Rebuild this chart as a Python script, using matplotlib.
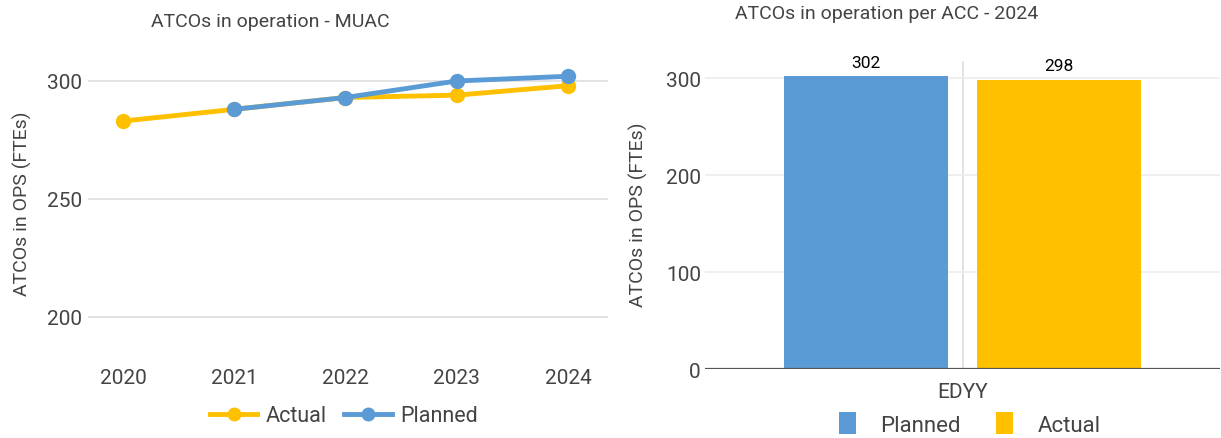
import matplotlib.pyplot as plt

# ============================================================
# data
# ============================================================

years = [2020, 2021, 2022, 2023, 2024]
actual = [283, 288, 293, 294, 298]
planned_years = [2021, 2022, 2023, 2024]
planned = [288, 293, 300, 302]

acc_names = ["EDYY"]
acc_planned = [302]
acc_actual = [298]

BLUE = "#5b9bd5"
YELLOW = "#ffc000"
TXT = "#444444"
GRID = "#dedede"

plt.rcParams["font.family"] = ["Roboto", "DejaVu Sans"]

W, H = 1221, 439
fig = plt.figure(figsize=(W / 100, H / 100), dpi=100)


def box(x0, y0, x1, y1):
    # pixel box -> figure fraction
    return [x0 / W, 1 - y1 / H, (x1 - x0) / W, (y1 - y0) / H]


# ============================================================
# left: line chart
# ============================================================

ax1 = fig.add_axes(box(88, 40, 608, 350))
xi = {y: i for i, y in enumerate(years)}
ax1.plot([xi[y] for y in years], actual, color=YELLOW, lw=3.5,
         marker="o", ms=10, label="Actual", zorder=3)
ax1.plot([xi[y] for y in planned_years], planned, color=BLUE, lw=3.5,
         marker="o", ms=10, label="Planned", zorder=4)

ax1.set_xlim(-0.315, 4.36)
ax1.set_ylim(186.4, 317.8)
ax1.set_yticks([200, 250, 300])
ax1.set_xticks(range(len(years)))
ax1.set_xticklabels([str(y) for y in years])
ax1.grid(axis="y", color=GRID, lw=1.2)
ax1.set_axisbelow(True)
for s in ax1.spines.values():
    s.set_visible(False)
ax1.tick_params(length=0, labelsize=15, colors=TXT)
ax1.tick_params(axis="x", pad=14)
ax1.tick_params(axis="y", pad=4)
fig.text(22 / W, 1 - 204 / H, "ATCOs in OPS (FTEs)", rotation=90,
         ha="center", va="center", fontsize=14, color=TXT)
fig.text(270 / W, 1 - 22 / H, "ATCOs in operation - MUAC",
         ha="center", va="center", fontsize=14, color=TXT)
ax1.legend(loc="center", bbox_to_anchor=(344 / W, 1 - 417 / H),
           bbox_transform=fig.transFigure, ncol=2, frameon=False,
           fontsize=15.5, labelcolor=TXT, handlelength=2.2,
           handletextpad=0.4, columnspacing=0.8, markerscale=0.9)

# ============================================================
# right: bar chart
# ============================================================

ax2 = fig.add_axes(box(705, 62, 1220, 370))
off = 0.187
bw = 0.318
xs = list(range(len(acc_names)))
b1 = ax2.bar([x - off for x in xs], acc_planned, width=bw, color=BLUE,
             label="Planned", zorder=3)
b2 = ax2.bar([x + off for x in xs], acc_actual, width=bw, color=YELLOW,
             label="Actual", zorder=3)
for bars in (b1, b2):
    for r in bars:
        ax2.annotate(f"{r.get_height():.0f}",
                     (r.get_x() + r.get_width() / 2, r.get_height()),
                     xytext=(0, 5), textcoords="offset points",
                     ha="center", va="bottom", fontsize=12.5, color="black")

ax2.set_xlim(-0.5, 0.5)
ax2.set_ylim(0, 318)
ax2.set_yticks([0, 100, 200, 300])
ax2.set_xticks(xs)
ax2.set_xticklabels(acc_names)
ax2.grid(axis="y", color="#ececec", lw=1.2)
ax2.grid(axis="x", color="#dddddd", lw=1.2)
ax2.set_axisbelow(True)
for s in ax2.spines.values():
    s.set_visible(False)
ax2.axhline(0, color="#555555", lw=1.6, zorder=4)
ax2.tick_params(length=0, labelsize=15, colors=TXT)
ax2.tick_params(axis="x", pad=9)
ax2.tick_params(axis="y", pad=3)
fig.text(638 / W, 1 - 215 / H, "ATCOs in OPS (FTEs)", rotation=90,
         ha="center", va="center", fontsize=14, color=TXT)
fig.text(887 / W, 1 - 14 / H, "ATCOs in operation per ACC - 2024",
         ha="center", va="center", fontsize=14, color=TXT)
ax2.legend(loc="center", bbox_to_anchor=(970 / W, 1 - 425 / H),
           bbox_transform=fig.transFigure, ncol=2, frameon=False,
           fontsize=16, labelcolor=TXT, handlelength=0.75, handleheight=1.1,
           handletextpad=1.1, columnspacing=1.6)

fig.savefig("out.png", dpi=100)
